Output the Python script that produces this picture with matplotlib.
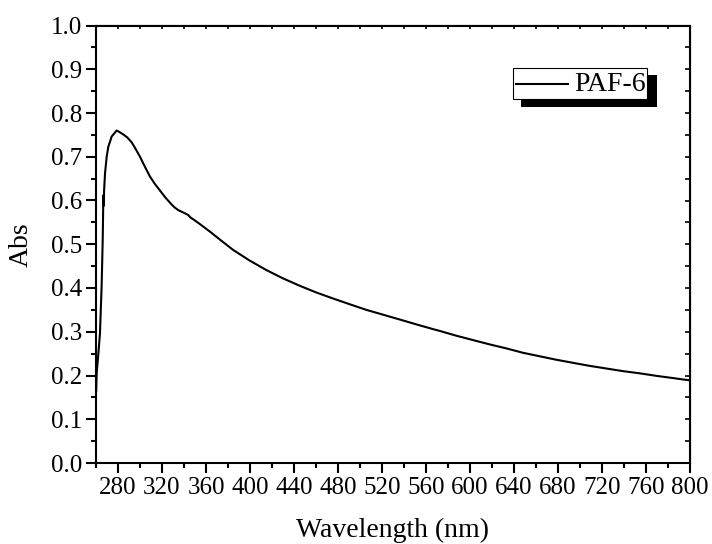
import numpy as np
import matplotlib
matplotlib.use("Agg")
import matplotlib.pyplot as plt
import matplotlib.patches as mp
from matplotlib.ticker import MultipleLocator, FormatStrFormatter

plt.rcParams["font.family"] = ["Liberation Serif", "DejaVu Serif"]

# UV-vis absorption spectrum of PAF-6 (wavelength in nm, absorbance)
wavelength = [260.2, 260.6, 262.0, 263.6, 265.1, 266.1, 266.7, 267.0, 267.4,
              268.2, 269.7, 271.2, 272.7, 274.2, 276.5, 278.8, 281.0, 284.8,
              288.5, 292.4, 296.0, 300.0, 304.5, 309.0, 313.5, 318.1, 323.0,
              328.7, 331.5, 334.8, 339.0, 343.8, 346.0, 349.0, 354.5, 363.5,
              374.0, 384.7, 399.5, 414.9, 430.0, 445.3, 460.0, 475.5, 490.5,
              505.8, 521.0, 536.1, 551.0, 566.4, 572.4, 587.5, 602.7, 618.0,
              633.0, 648.0, 663.3, 678.5, 693.6, 708.8, 723.9, 739.0, 754.2,
              770.0, 785.0, 793.4, 800.0]
absorbance = [0.165, 0.205, 0.245, 0.296, 0.403, 0.510, 0.612, 0.588, 0.625,
              0.662, 0.700, 0.723, 0.734, 0.746, 0.753, 0.760, 0.757, 0.751,
              0.744, 0.733, 0.718, 0.700, 0.677, 0.655, 0.638, 0.623, 0.607,
              0.591, 0.584, 0.578, 0.573, 0.567, 0.561, 0.556, 0.546, 0.529,
              0.508, 0.487, 0.463, 0.441, 0.422, 0.405, 0.390, 0.376, 0.363,
              0.350, 0.339, 0.328, 0.317, 0.306, 0.302, 0.291, 0.281, 0.271,
              0.262, 0.252, 0.244, 0.236, 0.229, 0.222, 0.216, 0.210, 0.205,
              0.199, 0.194, 0.191, 0.189]
series_name = "PAF-6"

fig = plt.figure(figsize=(7.12, 5.44), dpi=100)
ax = fig.add_axes([96/712, 1 - 463/544, 594/712, 437.5/544])

ax.plot(wavelength, absorbance, color="black", lw=1.5)

ax.set_xlim(260, 800)
ax.set_ylim(0, 1.0)
ax.set_xticks(np.arange(280, 801, 40))
ax.xaxis.set_minor_locator(MultipleLocator(20))
ax.yaxis.set_major_locator(MultipleLocator(0.1))
ax.yaxis.set_minor_locator(MultipleLocator(0.05))
ax.yaxis.set_major_formatter(FormatStrFormatter("%.1f"))

for s in ax.spines.values():
    s.set_linewidth(1.5)
ax.tick_params(which="both", direction="out", width=1.5, labelsize=18, pad=3)
ax.tick_params(which="major", length=7)
ax.tick_params(which="minor", length=3.5)

# inward ticks on the opposite axes, no labels
top = ax.secondary_xaxis("top")
top.xaxis.set_major_locator(MultipleLocator(20))
top.tick_params(direction="in", length=3, width=1.2, labeltop=False)
right = ax.secondary_yaxis("right")
right.yaxis.set_major_locator(MultipleLocator(0.05))
right.tick_params(direction="in", length=3.5, width=1.2, labelright=False)

ax.set_xlabel("Wavelength (nm)", fontsize=20, labelpad=14)
ax.set_ylabel("Abs", fontsize=20, labelpad=12)

# legend box with solid drop shadow
ax.add_patch(mp.Rectangle((0.715, 0.813), 0.230, 0.074, transform=ax.transAxes,
                          facecolor="black", edgecolor="none", zorder=4))
ax.add_patch(mp.Rectangle((0.7025, 0.8313), 0.2245, 0.0707, transform=ax.transAxes,
                          facecolor="white", edgecolor="black", lw=0.8, zorder=5))
ax.plot([0.707, 0.794], [0.8656, 0.8656], transform=ax.transAxes,
        color="black", lw=1.5, zorder=6)
ax.text(0.8047, 0.8656, series_name, transform=ax.transAxes, fontsize=20,
        va="center", ha="left", zorder=7)

fig.savefig("out.png", dpi=100)
